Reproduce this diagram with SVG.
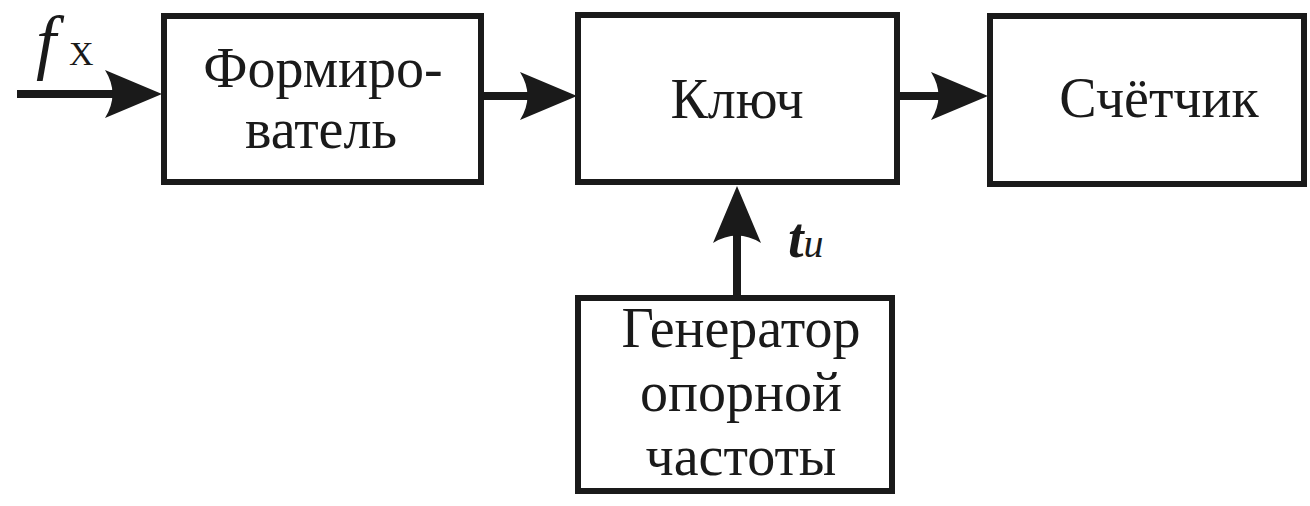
<svg xmlns="http://www.w3.org/2000/svg" xmlns:xlink="http://www.w3.org/1999/xlink" width="1310" height="506" viewBox="0 0 1310 506">
<style>
.box{fill:#fff;stroke:#1a1a1a;stroke-width:6}
text{font-family:"Liberation Serif","Times New Roman",Times,"Nimbus Roman","Nimbus Roman No9 L","Noto Serif","DejaVu Serif",FreeSerif,serif;fill:#1a1a1a}
.lbl{font-size:56px;text-anchor:middle}
.wire{stroke:#1a1a1a;stroke-width:8;fill:none}
.head{fill:#1a1a1a}
</style>
<defs>
<path id="ah" d="M0 0 L-57 -24 Q-42 0 -57 24 Z"/>
</defs>
<rect width="1310" height="506" fill="#fff"/>
<g id="connectors">
<line class="wire" x1="17" y1="94" x2="125" y2="94"/>
<use xlink:href="#ah" class="head" transform="translate(162,94)"/>
<line class="wire" x1="484" y1="96" x2="540" y2="96"/>
<use xlink:href="#ah" class="head" transform="translate(577,96)"/>
<line class="wire" x1="900" y1="96" x2="950" y2="96"/>
<use xlink:href="#ah" class="head" transform="translate(988,96)"/>
<line class="wire" x1="737" y1="296" x2="737" y2="225"/>
<use xlink:href="#ah" class="head" transform="translate(737,186) rotate(-90)"/>
</g>
<g id="label-fx">
<text x="36" y="66" font-style="italic" font-size="72">f</text>
<text x="69" y="65" font-size="34">X</text>
</g>
<g id="label-tu">
<text x="788" y="257"><tspan font-style="italic" font-weight="bold" font-size="56">t</tspan><tspan font-style="italic" font-size="40">и</tspan></text>
</g>
<g id="node-former">
<rect class="box" x="164" y="16" width="317" height="166"/>
<text class="lbl" x="323" y="87">Формиро-</text>
<text class="lbl" x="321" y="148">ватель</text>
</g>
<g id="node-key">
<rect class="box" x="578" y="15" width="319" height="167"/>
<text class="lbl" x="737" y="118">Ключ</text>
</g>
<g id="node-counter">
<rect class="box" x="990" y="16" width="314" height="168"/>
<text class="lbl" x="1159" y="117">Счётчик</text>
</g>
<g id="node-generator">
<rect class="box" x="578" y="298" width="314" height="193"/>
<text class="lbl" x="741" y="347">Генератор</text>
<text class="lbl" x="741" y="411">опорной</text>
<text class="lbl" x="741" y="475">частоты</text>
</g>
</svg>
